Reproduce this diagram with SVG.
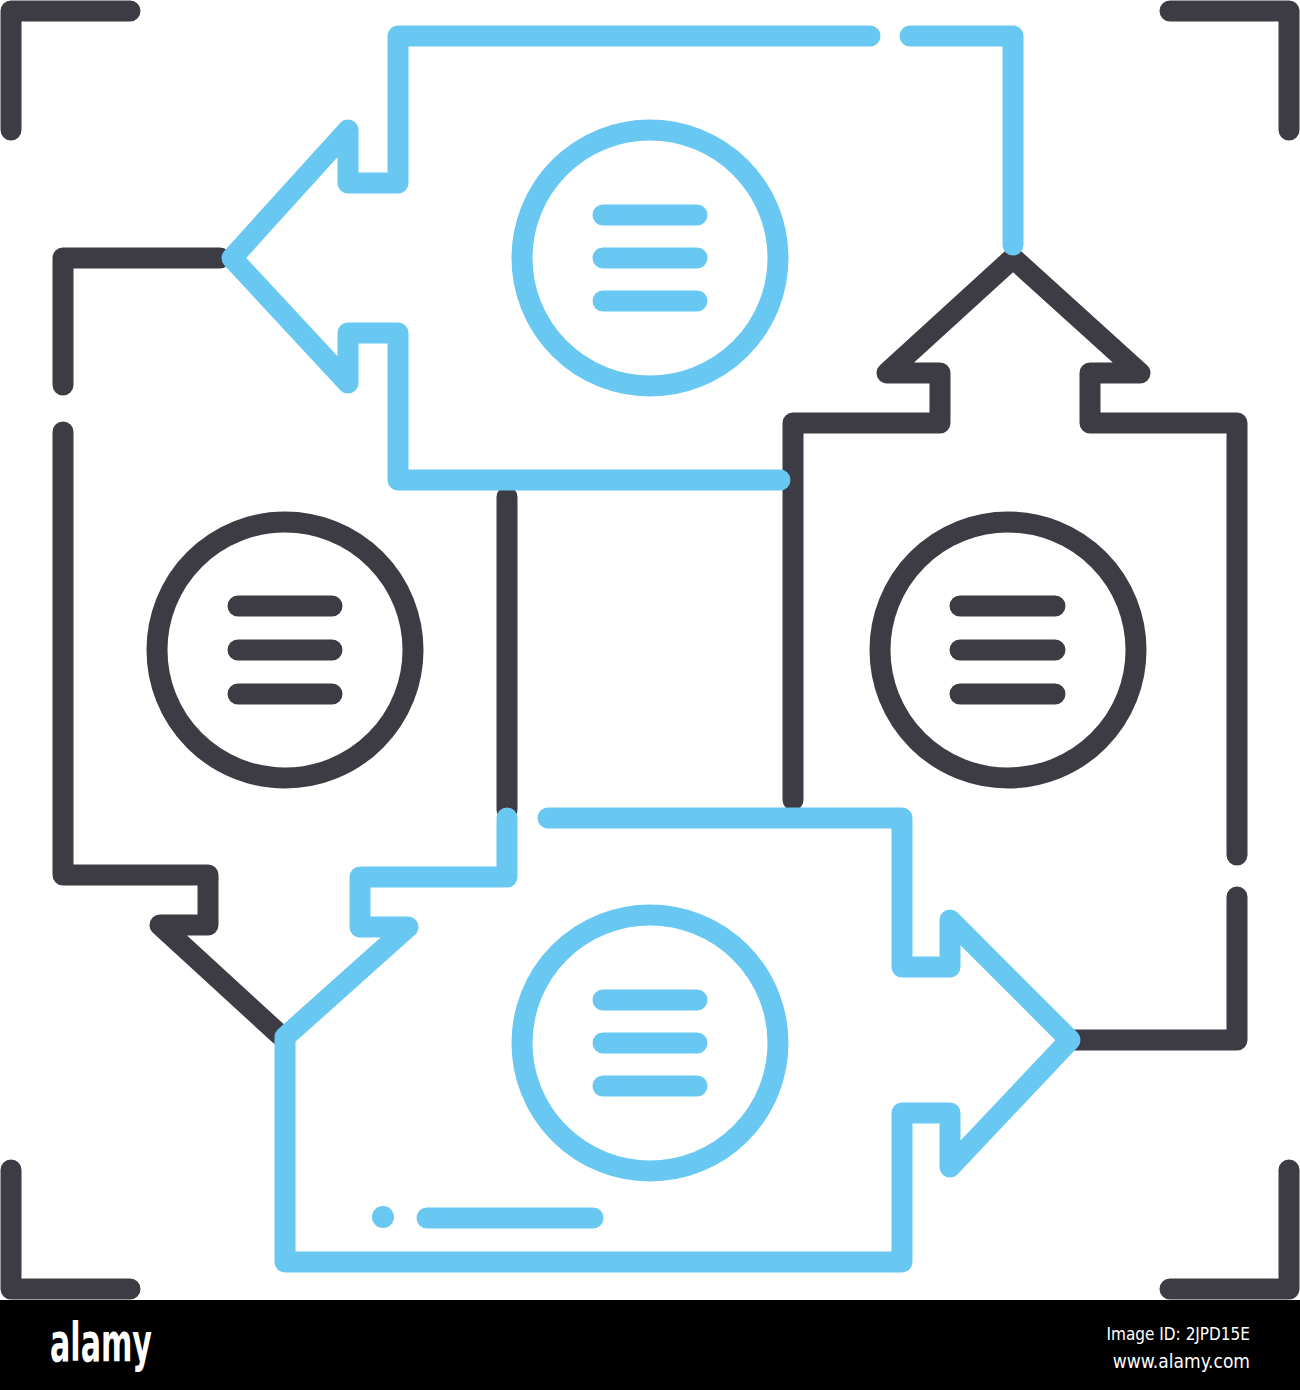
<svg xmlns="http://www.w3.org/2000/svg" width="1300" height="1390" viewBox="0 0 1300 1390">
<style>
.d{fill:none;stroke:#3d3b44;stroke-width:21;stroke-linecap:round;stroke-linejoin:round}
.b{fill:none;stroke:#68c8f2;stroke-width:21;stroke-linecap:round;stroke-linejoin:round}
.t{fill:#fff;font-family:"Liberation Sans Narrow","DejaVu Sans Condensed","Liberation Sans",sans-serif}
</style>
<rect width="1300" height="1390" fill="#fff"/>
<g id="corners">
<path class="d" d="M130 11H11V130M1170 11H1289V130M11 1170V1289H130M1289 1170V1289H1170"/>
</g>
<g id="connectors">
<path class="d" d="M220 258H63V385M63 432V875H208V925H160L280 1035"/>
<path class="d" d="M507 497V810"/>
<path class="d" d="M1237 855V423H1090V373H1140L1013 258L887 373H940V423H793V800"/>
<path class="d" d="M1237 897V1040H1072"/>
</g>
<g id="node-top">
<path class="b" d="M870 36H398V183H348V130L232 258L348 383V333H398V480H780"/>
<path class="b" d="M910 36H1013V245"/>
<circle class="b" cx="650" cy="258" r="128"/>
<path class="b" d="M603 215H697M603 258H697M603 301H697"/>
</g>
<g id="node-left">
<circle class="d" cx="285" cy="650" r="128"/>
<path class="d" d="M238 606H332M238 650H332M238 694H332"/>
</g>
<g id="node-right">
<circle class="d" cx="1008" cy="650" r="128"/>
<path class="d" d="M960 606H1055M960 650H1055M960 694H1055"/>
</g>
<g id="node-bottom">
<path class="b" d="M507 818V877H360V927H408L285 1037V1262H902V1113H950V1167L1070 1040L950 920V967H902V818H548"/>
<circle class="b" cx="650" cy="1043" r="128"/>
<path class="b" d="M603 1000H697M603 1043H697M603 1086H697"/>
<circle cx="383" cy="1217" r="11" fill="#68c8f2"/>
<path class="b" d="M427 1218H593"/>
</g>
<g id="watermark">
<rect x="0" y="1300" width="1300" height="90" fill="#000"/>
<text class="t" x="50" y="1361" font-size="54" font-weight="bold" textLength="102" lengthAdjust="spacingAndGlyphs">alamy</text>
<text class="t" x="1250" y="1340" font-size="17" text-anchor="end">Image ID: 2JPD15E</text>
<text class="t" x="1250" y="1368" font-size="19" text-anchor="end">www.alamy.com</text>
</g>
</svg>
